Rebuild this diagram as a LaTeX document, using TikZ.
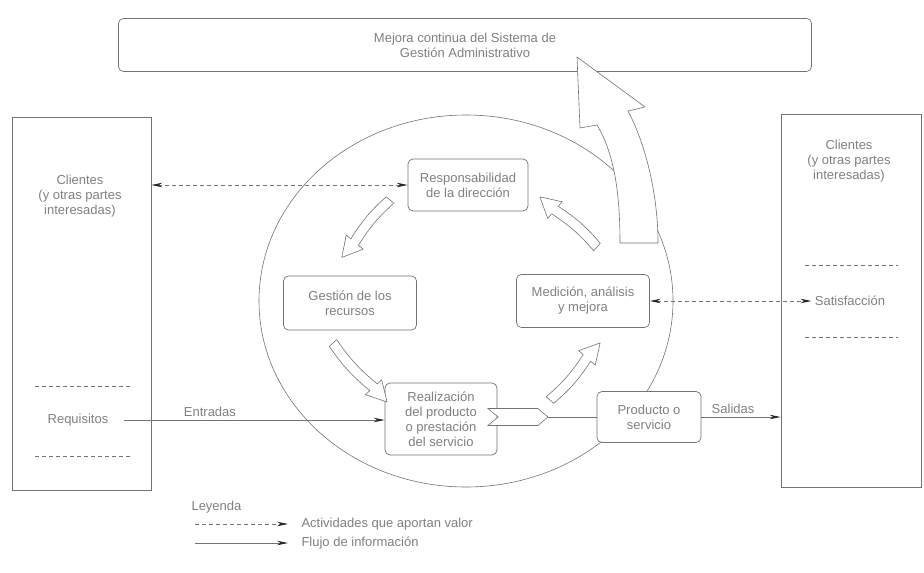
\documentclass[tikz,border=0pt]{standalone}
\usepackage{fontspec}
\setmainfont{Liberation Sans}
\usepackage{xcolor}
\usepackage{tikz}
\usetikzlibrary{arrows.meta,shapes.symbols}

\definecolor{trazo}{gray}{0.45}
\definecolor{letra}{gray}{0.5}
\definecolor{punta}{gray}{0.15}

\begin{document}
\begin{tikzpicture}[x=1pt, y=-1pt,
    font=\fontsize{13}{15}\selectfont, text=letra,
    >={Stealth[length=11pt,width=4.5pt,color=punta]},
    caja/.style={draw=trazo, rounded corners=5pt, fill=white, align=center, line width=0.7pt},
    lado/.style={draw=trazo, line width=0.8pt},
    flujo/.style={draw=trazo, line width=0.8pt},
    actividad/.style={flujo, dash pattern=on 4pt off 3pt},
    separador/.style={draw=trazo, dash pattern=on 4pt off 3pt, line width=0.6pt},
    flecha/.style={draw=trazo, fill=white, line width=0.6pt, line join=round},
    pics/bloque/.style={code={
        \draw[flecha] (0,-5) to[bend right=8] (#1-20,-5) -- (#1-20,-11) -- (#1,0) -- (#1-20,11) -- (#1-20,5) to[bend left=8] (0,5) -- cycle;
    }}]
    \useasboundingbox (0,0) rectangle (924,573);

    % ciclo
    \draw[trazo, line width=0.6pt] (466,301) ellipse [x radius=207, y radius=186];

    \node[caja, minimum width=693, minimum height=53] (mejora) at (465,45) {Mejora continua del Sistema de\\Gestión Administrativo};

    % clientes
    \node[lado, minimum width=139, minimum height=373] (izq) at (81.5,303.5) {};
    \node[lado, minimum width=140, minimum height=373] (der) at (851,300.5) {};
    \node[align=center] (clientesIzq) at (80,196) {Clientes\\(y otras partes\\interesadas)};
    \node[align=center] (clientesDer) at (849,161) {Clientes\\(y otras partes\\interesadas)};
    \node (requisitos) at (78,420) {Requisitos};
    \node (satisfaccion) at (850,301) {Satisfacción};
    \draw[separador] (35,386) -- (130,386);
    \draw[separador] (35,456) -- (130,456);
    \draw[separador] (805,265) -- (898,265);
    \draw[separador] (805,337) -- (898,337);

    % procesos
    \node[caja, minimum width=120, minimum height=52] (resp) at (468,185) {Responsabilidad\\de la dirección};
    \node[caja, minimum width=133, minimum height=54] (gestion) at (350,303) {Gestión de los\\recursos};
    \node[caja, minimum width=133, minimum height=53] (medicion) at (583,301) {Medición, análisis\\y mejora};
    \node[caja, minimum width=112, minimum height=72] (realiz) at (441,419) {Realización\\del producto\\o prestación\\del servicio};
    \node[caja, minimum width=104, minimum height=51] (producto) at (649,417) {Producto o\\servicio};

    \pic[rotate=230] at (390,200) {bloque=75};
    \pic[rotate=-47.5] at (333,343) {bloque=80};
    \pic[rotate=48.7] at (550,400) {bloque=76};
    \pic[rotate=138.7] at (597,247) {bloque=76};

    \draw[flecha] (620,243) .. controls (620,185) and (612,150) .. (597,125) -- (580,128) -- (577,57) -- (645,107) -- (628,111) .. controls (646,145) and (658,195) .. (658,243) -- cycle;

    \node[signal, signal from=west, signal to=east, signal pointer angle=80, draw=trazo, fill=white, line width=0.6pt, minimum width=60, minimum height=17, inner sep=0pt] (senal) at (518,417) {};
    \draw[flujo] (senal.east) -- (producto.west |- senal.east);

    % flujos
    \draw[actividad, <->] (izq.east |- resp.west) -- (resp.west);
    \draw[actividad, <->] (medicion.east) -- (satisfaccion.west);
    \draw[flujo, ->] ([xshift=12pt]requisitos.east) -- (requisitos.east -| realiz.west) node[pos=0.33, above] {Entradas};
    \draw[flujo, ->] (producto.east) -- (producto.east -| der.west) node[pos=0.4, above] {Salidas};

    % leyenda
    \node[anchor=west] (leyenda) at (188,507) {Leyenda};
    \node[anchor=west] (lactividad) at (298,524) {Actividades que aportan valor};
    \node[anchor=west] (lflujo) at (298,543) {Flujo de información};
    \coordinate (inicioA) at (195,524);
    \coordinate (inicioF) at (195,543);
    \draw[actividad, ->] (inicioA) -- ([xshift=-10pt]lactividad.west);
    \draw[flujo, ->] (inicioF) -- ([xshift=-10pt]lflujo.west);
\end{tikzpicture}
\end{document}
